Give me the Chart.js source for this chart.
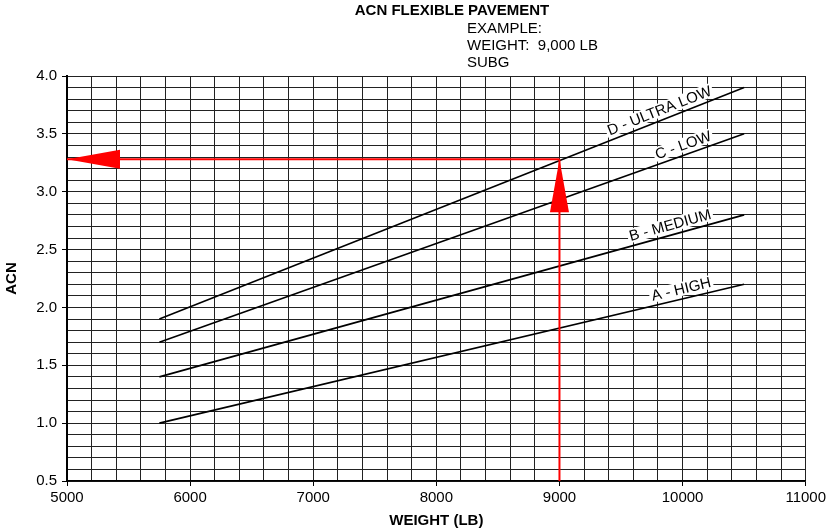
<!DOCTYPE html>
<html>
<head>
<meta charset="utf-8">
<title>ACN Flexible Pavement</title>
<script src="https://cdn.jsdelivr.net/npm/chart.js@4/dist/chart.umd.min.js"></script>
<style>
  body { margin: 0; background: #fff; }
  canvas { display: block; }
</style>
</head>
<body>
<canvas id="acnChart" width="829" height="532"></canvas>
<script>
// curve end points (weight in lb, ACN)
const weights = [5750, 10500];
const acnHigh = [1.0, 2.2];
const acnMedium = [1.4, 2.8];
const acnLow = [1.7, 3.5];
const acnUltraLow = [1.9, 3.9];
const curveNames = ['A - HIGH', 'B - MEDIUM', 'C - LOW', 'D - ULTRA LOW'];

// example read-off
const exampleWeight = 9000;
const exampleAcn = 3.28;
const weightMin = 5000, weightMax = 11000;
const acnMin = 0.5, acnMax = 4.0;

const titleText = 'ACN FLEXIBLE PAVEMENT';
const exampleLines = ['EXAMPLE:', 'WEIGHT:  9,000 LB', 'SUBG'];

const FONT = '"Liberation Sans", Arial, Helvetica, sans-serif';

const toXY = (xs, ys) => xs.map((x, i) => ({ x: x, y: ys[i] }));

// labels written along each curve, near its right end
const curveLabels = {
    id: 'curveLabels',
    afterDatasetsDraw(chart) {
        const ctx = chart.ctx;
        chart.data.datasets.forEach((ds, i) => {
            if (!ds.curveLabel) return;
            const pts = chart.getDatasetMeta(i).data;
            const a = pts[0], b = pts[pts.length - 1];
            const ang = Math.atan2(b.y - a.y, b.x - a.x);
            ctx.save();
            ctx.translate(b.x, b.y);
            ctx.rotate(ang);
            ctx.font = '15px ' + FONT;
            const w = ctx.measureText(ds.curveLabel).width;
            ctx.fillStyle = '#fff';
            ctx.fillRect(-32 - w - 2, -17, w + 4, 14);
            ctx.fillStyle = '#000';
            ctx.textAlign = 'right';
            ctx.textBaseline = 'alphabetic';
            ctx.fillText(ds.curveLabel, -32, -5);
            ctx.restore();
        });
    }
};

// filled arrow head at the last point of the red lines
const arrowHeads = {
    id: 'arrowHeads',
    afterDatasetsDraw(chart) {
        const ctx = chart.ctx;
        chart.data.datasets.forEach((ds, i) => {
            if (!ds.arrowHead) return;
            const pts = chart.getDatasetMeta(i).data;
            const tip = pts[pts.length - 1], prev = pts[pts.length - 2];
            const ang = Math.atan2(tip.y - prev.y, tip.x - prev.x);
            ctx.save();
            ctx.translate(tip.x, tip.y);
            ctx.rotate(ang);
            ctx.beginPath();
            ctx.moveTo(0, 0);
            ctx.lineTo(-53, -9.5);
            ctx.lineTo(-53, 9.5);
            ctx.closePath();
            ctx.fillStyle = ds.borderColor;
            ctx.fill();
            ctx.restore();
        });
    }
};

// title and example note above the plot
const header = {
    id: 'header',
    afterDraw(chart) {
        const ctx = chart.ctx;
        ctx.save();
        ctx.fillStyle = '#000';
        ctx.textBaseline = 'middle';
        ctx.textAlign = 'center';
        ctx.font = 'bold 15px ' + FONT;
        ctx.fillText(titleText, 452, 11);
        ctx.textAlign = 'left';
        ctx.font = '15px ' + FONT;
        exampleLines.forEach((t, i) => ctx.fillText(t, 467, 29 + i * 17));
        ctx.restore();
    }
};

const isMajorX = v => Math.abs(v % 1000) < 1e-6;
const isMajorY = v => Math.abs(v * 2 - Math.round(v * 2)) < 1e-6;

const curve = (ys, name) => ({
    data: toXY(weights, ys),
    curveLabel: name,
    borderColor: '#000',
    borderWidth: 1.6,
    showLine: true,
    pointRadius: 0,
    fill: false
});

new Chart(document.getElementById('acnChart').getContext('2d'), {
    type: 'scatter',
    data: {
        datasets: [
            {
                data: [{ x: exampleWeight, y: exampleAcn }, { x: weightMin, y: exampleAcn }],
                arrowHead: true,
                borderColor: '#ff0000',
                borderWidth: 2,
                showLine: true,
                pointRadius: 0
            },
            {
                data: [{ x: exampleWeight, y: acnMin }, { x: exampleWeight, y: exampleAcn }],
                arrowHead: true,
                borderColor: '#ff0000',
                borderWidth: 2,
                showLine: true,
                pointRadius: 0
            },
            curve(acnHigh, curveNames[0]),
            curve(acnMedium, curveNames[1]),
            curve(acnLow, curveNames[2]),
            curve(acnUltraLow, curveNames[3])
        ]
    },
    options: {
        responsive: false,
        animation: false,
        layout: { padding: { top: 76, right: 21, left: 0, bottom: 0 } },
        plugins: {
            legend: { display: false },
            tooltip: { enabled: false }
        },
        scales: {
            x: {
                type: 'linear',
                min: weightMin,
                max: weightMax,
                afterFit(scale) { scale.height = 51; },
                ticks: {
                    stepSize: 200,
                    autoSkip: false,
                    maxRotation: 0,
                    padding: 3,
                    color: '#000',
                    font: { family: FONT, size: 15 },
                    callback: v => isMajorX(v) ? String(v) : ''
                },
                grid: {
                    color: '#222',
                    lineWidth: 1,
                    tickLength: 5,
                    tickColor: c => (c.tick && isMajorX(c.tick.value)) ? '#000' : 'rgba(0,0,0,0)'
                },
                border: { color: '#000', width: 1.5 },
                title: {
                    display: true,
                    text: 'WEIGHT (LB)',
                    color: '#000',
                    font: { family: FONT, size: 15, weight: 'bold' },
                    padding: { top: 0, bottom: 2 }
                }
            },
            y: {
                min: acnMin,
                max: acnMax,
                afterFit(scale) { scale.width = 67; },
                ticks: {
                    stepSize: 0.1,
                    autoSkip: false,
                    padding: 5,
                    color: '#000',
                    font: { family: FONT, size: 15 },
                    callback: v => isMajorY(v) ? Number(v).toFixed(1) : ''
                },
                grid: {
                    color: '#222',
                    lineWidth: 1,
                    tickLength: 5,
                    tickColor: c => (c.tick && isMajorY(c.tick.value)) ? '#000' : 'rgba(0,0,0,0)'
                },
                border: { color: '#000', width: 2 },
                title: {
                    display: true,
                    text: 'ACN',
                    color: '#000',
                    font: { family: FONT, size: 15, weight: 'bold' },
                    padding: { top: 3, bottom: 0 }
                }
            }
        }
    },
    plugins: [curveLabels, arrowHeads, header]
});
</script>
</body>
</html>
